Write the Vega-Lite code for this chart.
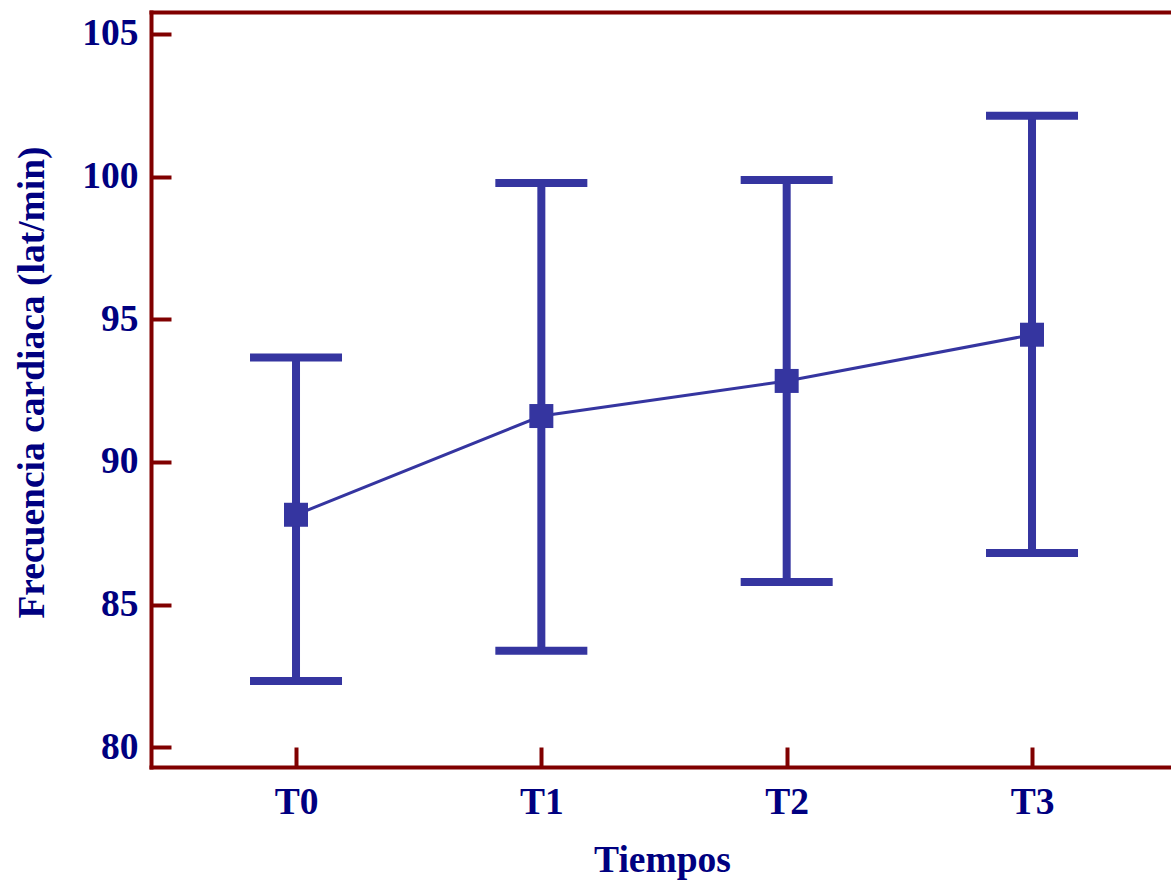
{
  "$schema": "https://vega.github.io/schema/vega-lite/v6.json",
  "width": 1020,
  "height": 755,
  "autosize": {"type": "none"},
  "padding": {"left": 151, "top": 12, "right": 0, "bottom": 116},
  "background": "white",
  "config": {
    "view": {"stroke": null},
    "axis": {
      "labelFont": "Liberation Serif",
      "titleFont": "Liberation Serif",
      "labelFontWeight": "bold",
      "titleFontWeight": "bold",
      "labelColor": "#000080",
      "titleColor": "#000080",
      "labelFontSize": 37.5,
      "titleFontSize": 37.5,
      "domainColor": "#800000",
      "tickColor": "#800000",
      "domainWidth": 4,
      "tickWidth": 4,
      "grid": false,
      "domainCap": "square"
    }
  },
  "data": {
    "values": [
      {"t": "T0", "mean": 88.15, "lo": 82.32, "hi": 93.66},
      {"t": "T1", "mean": 91.61, "lo": 83.38, "hi": 99.78},
      {"t": "T2", "mean": 92.84, "lo": 85.79, "hi": 99.88},
      {"t": "T3", "mean": 94.46, "lo": 86.81, "hi": 102.13}
    ]
  },
  "layer": [
    {
      "mark": {"type": "rule", "color": "#3535a0", "strokeWidth": 8, "opacity": 1},
      "encoding": {
        "x": {"field": "t", "type": "nominal", "scale": {"type": "point", "padding": 0.5788, "align": 0.5106},
          "axis": {"orient": "bottom", "labelAngle": 0, "tickSize": -20, "labelPadding": 66, "labelBaseline": "alphabetic", "title": "Tiempos", "titleX": 511, "titleY": 104, "titleBaseline": "alphabetic", "titleAlign": "center", "titleAnchor": null}},
        "y": {"field": "lo", "type": "quantitative", "scale": {"domain": [79.31, 105.77], "nice": false, "zero": false},
          "axis": {"values": [80, 85, 90, 95, 100, 105], "tickSize": -20, "labelPadding": 33, "labelBaseline": "middle", "title": "Frecuencia cardiaca (lat/min)", "titleX": -108, "titleY": 370, "titleAngle": -90, "titleBaseline": "alphabetic", "titleAlign": "center", "titleAnchor": null}},
        "y2": {"field": "hi"}
      }
    },
    {
      "mark": {"type": "tick", "color": "#3535a0", "thickness": 8, "size": 92, "orient": "horizontal", "opacity": 1},
      "encoding": {
        "x": {"field": "t", "type": "nominal", "scale": {"type": "point", "padding": 0.5788, "align": 0.5106},
          "axis": {"orient": "top", "labels": false, "ticks": false, "title": null, "domain": true}},
        "y": {"field": "lo", "type": "quantitative", "scale": {"domain": [79.31, 105.77], "nice": false, "zero": false},
          "axis": {"values": [80, 85, 90, 95, 100, 105], "tickSize": -20, "labelPadding": 33, "labelBaseline": "middle", "title": "Frecuencia cardiaca (lat/min)", "titleX": -108, "titleY": 370, "titleAngle": -90, "titleBaseline": "alphabetic", "titleAlign": "center", "titleAnchor": null}}
      }
    },
    {
      "mark": {"type": "tick", "color": "#3535a0", "thickness": 8, "size": 92, "orient": "horizontal", "opacity": 1},
      "encoding": {
        "x": {"field": "t", "type": "nominal", "scale": {"type": "point", "padding": 0.5788, "align": 0.5106}, "axis": null},
        "y": {"field": "hi", "type": "quantitative", "scale": {"domain": [79.31, 105.77], "nice": false, "zero": false},
          "axis": {"values": [80, 85, 90, 95, 100, 105], "tickSize": -20, "labelPadding": 33, "labelBaseline": "middle", "title": "Frecuencia cardiaca (lat/min)", "titleX": -108, "titleY": 370, "titleAngle": -90, "titleBaseline": "alphabetic", "titleAlign": "center", "titleAnchor": null}}
      }
    },
    {
      "mark": {"type": "line", "color": "#3535a0", "strokeWidth": 3},
      "encoding": {
        "x": {"field": "t", "type": "nominal", "scale": {"type": "point", "padding": 0.5788, "align": 0.5106}, "axis": null},
        "y": {"field": "mean", "type": "quantitative", "scale": {"domain": [79.31, 105.77], "nice": false, "zero": false},
          "axis": {"values": [80, 85, 90, 95, 100, 105], "tickSize": -20, "labelPadding": 33, "labelBaseline": "middle", "title": "Frecuencia cardiaca (lat/min)", "titleX": -108, "titleY": 370, "titleAngle": -90, "titleBaseline": "alphabetic", "titleAlign": "center", "titleAnchor": null}}
      }
    },
    {
      "mark": {"type": "point", "shape": "square", "filled": true, "size": 576, "color": "#3535a0", "opacity": 1},
      "encoding": {
        "x": {"field": "t", "type": "nominal", "scale": {"type": "point", "padding": 0.5788, "align": 0.5106}, "axis": null},
        "y": {"field": "mean", "type": "quantitative", "scale": {"domain": [79.31, 105.77], "nice": false, "zero": false},
          "axis": {"values": [80, 85, 90, 95, 100, 105], "tickSize": -20, "labelPadding": 33, "labelBaseline": "middle", "title": "Frecuencia cardiaca (lat/min)", "titleX": -108, "titleY": 370, "titleAngle": -90, "titleBaseline": "alphabetic", "titleAlign": "center", "titleAnchor": null}}
      }
    }
  ],
  "resolve": {"axis": {"x": "independent"}}
}
